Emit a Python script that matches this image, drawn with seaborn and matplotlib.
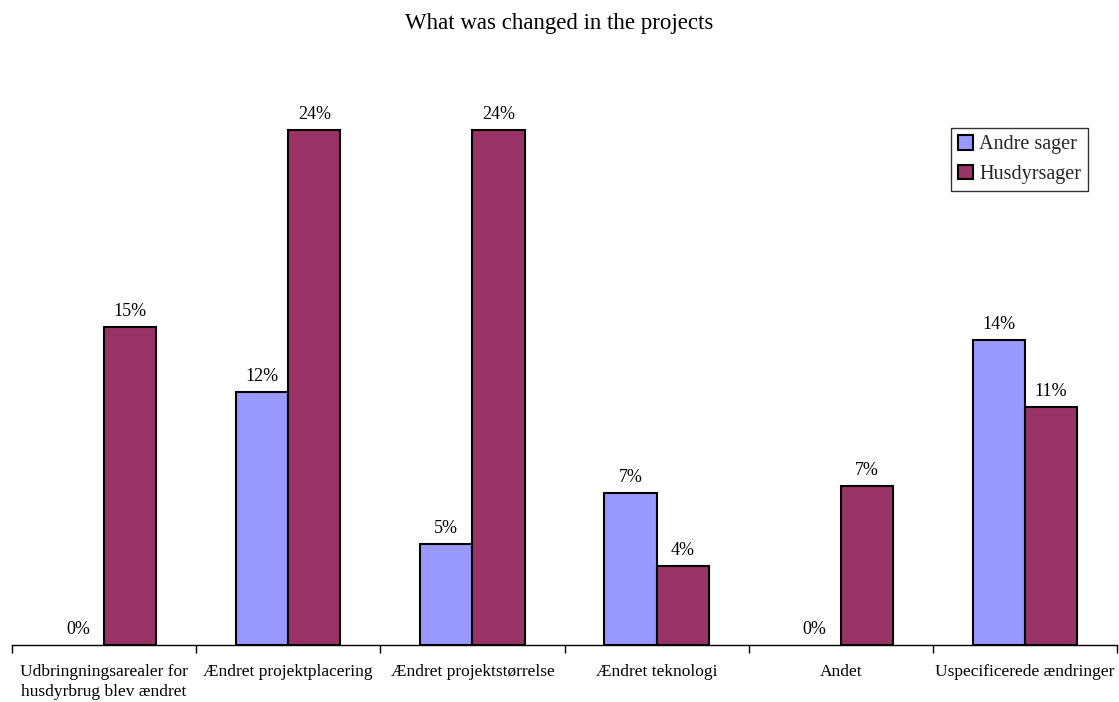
import matplotlib
matplotlib.use("Agg")
import matplotlib.pyplot as plt
import seaborn as sns
import pandas as pd
import numpy as np

categories = [
    "Udbringningsarealer for\nhusdyrbrug blev ændret",
    "Ændret projektplacering",
    "Ændret projektstørrelse",
    "Ændret teknologi",
    "Andet",
    "Uspecificerede ændringer",
]
series = ["Andre sager", "Husdyrsager"]
andre_sager = [0.0, 11.8, 4.7, 7.1, 0.0, 14.2]
husdyrsager = [14.8, 24.0, 24.0, 3.7, 7.4, 11.1]
colors = ["#9999FF", "#993366"]

df = pd.DataFrame({
    "Kategori": categories * 2,
    "Serie": [series[0]] * len(categories) + [series[1]] * len(categories),
    "Andel": andre_sager + husdyrsager,
})

sns.set_theme(style="white")
plt.rcParams["font.family"] = ["Liberation Serif", "DejaVu Serif"]

fig = plt.figure(figsize=(11.19, 7.02), dpi=100)
ax = fig.add_axes([12 / 1119, 1 - 645 / 702, 1105 / 1119, 565 / 702])

sns.barplot(
    data=df, x="Kategori", y="Andel", hue="Serie", order=categories,
    hue_order=series, palette=colors, edgecolor="black", linewidth=1.5,
    width=0.566, saturation=1, ax=ax, errorbar=None,
)

# zero-height bars carry no visible outline
for patch in ax.patches:
    if patch.get_height() == 0:
        patch.set_linewidth(0)

for cont in ax.containers:
    ax.bar_label(cont, fmt="{:.0f}%", padding=5, fontsize=13, color="black")

ax.set_ylim(0, 565 / 21.46)
ax.set_xlim(-0.5, len(categories) - 0.5)
ax.set_xlabel("")
ax.set_ylabel("")
ax.set_yticks([])

ax.set_xticks(np.arange(len(categories)))
ax.set_xticklabels(categories, fontsize=12.5, color="black", linespacing=1.3)
ax.set_xticks(np.arange(-0.5, len(categories)), minor=True)
ax.tick_params(axis="x", which="major", length=0, pad=14)
ax.tick_params(axis="x", which="minor", length=6, width=1, color="black",
               direction="out", bottom=True)

for s in ["top", "left", "right"]:
    ax.spines[s].set_visible(False)
ax.spines["bottom"].set_color("black")
ax.spines["bottom"].set_linewidth(1)

fig.suptitle("What was changed in the projects", fontsize=16.5, y=1 - 24 / 702,
             va="center", color="black")

leg = ax.legend(
    loc="upper right", bbox_to_anchor=(1088 / 1119, 1 - 128 / 702),
    bbox_transform=fig.transFigure, fontsize=14.5, frameon=True, fancybox=False,
    edgecolor="black", handlelength=0.75, handleheight=0.75, handletextpad=0.3,
    borderpad=0.35, labelspacing=0.5, borderaxespad=0,
)
leg.get_frame().set_linewidth(1)
for h in leg.legend_handles:
    h.set_edgecolor("black")
    h.set_linewidth(1.5)

fig.savefig("out.png", dpi=100, facecolor="white")
